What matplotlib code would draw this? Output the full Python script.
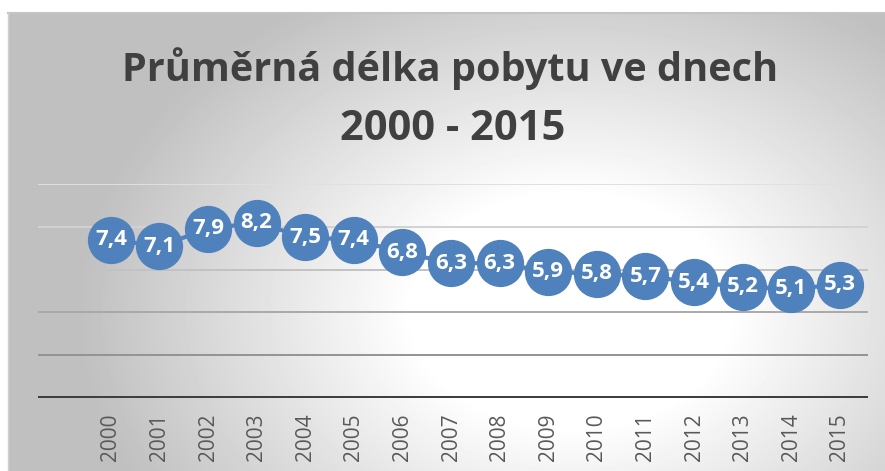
import numpy as np
import matplotlib
matplotlib.use('Agg')
import matplotlib.pyplot as plt

# data
years = ['2000', '2001', '2002', '2003', '2004', '2005', '2006', '2007',
         '2008', '2009', '2010', '2011', '2012', '2013', '2014', '2015']
days = [7.4, 7.1, 7.9, 8.2, 7.5, 7.4, 6.8, 6.3,
        6.3, 5.9, 5.8, 5.7, 5.4, 5.2, 5.1, 5.3]
grid_vals = [2, 4, 6, 8, 10]
grid_colors = ['#939393', '#a9a9a9', '#c2c2c2', '#d2d2d2', '#e0e0e0']

W, H = 885, 471
DPI = 100
BLUE = '#4f81bd'
FONT = 'Open Sans'

fig = plt.figure(figsize=(W / DPI, H / DPI), dpi=DPI)

# background with radial gradient (white centre, grey edges)
bg = fig.add_axes([0, 0, 1, 1])
bg.set_xlim(0, W)
bg.set_ylim(H, 0)
bg.axis('off')
xx, yy = np.meshgrid(np.arange(W), np.arange(H))
d = np.sqrt(((xx - 570) / 450.0) ** 2 + ((yy - 310) / 330.0) ** 2)
shade = 1 - 0.25 * np.clip((d - 0.35) / 0.75, 0, 1)
shade[yy < 13] = 1
shade[xx < 8] = 1
bg.imshow(shade, cmap='gray', vmin=0, vmax=1, extent=(0, W, H, 0),
          interpolation='bilinear')
bg.plot([8, W], [13, 13], color='#c4c4c4', lw=1.5)
bg.plot([8, 8], [13, H], color='#d0d0d0', lw=1.0)

# plot area
left, right, bottom, top = 38, 868, 398, 184
ax = fig.add_axes([left / W, 1 - bottom / H, (right - left) / W, (bottom - top) / H])
ax.patch.set_alpha(0)
x = np.arange(len(years))
ax.set_xlim(-1.5, len(years) - 0.42)
ax.set_ylim(0, 10)

for v, c in zip(grid_vals, grid_colors):
    ax.axhline(v, color=c, lw=1.4, zorder=1)
ax.axhline(0, color='#3f3f3f', lw=3.6, zorder=2)

for s in ax.spines.values():
    s.set_visible(False)
ax.set_yticks([])
ax.set_xticks(x)
ax.set_xticklabels(years, rotation=90, fontsize=15, color='#595959',
                   family=FONT, va='top')
ax.tick_params(axis='x', length=0, pad=11)

ax.plot(x, days, color=BLUE, lw=3, zorder=3, clip_on=False)
ax.plot(x, days, 'o', color=BLUE, ms=33, mec=BLUE, zorder=4, clip_on=False)
for xi, v in zip(x, days):
    ax.text(xi, v, ('%.1f' % v).replace('.', ','), ha='center', va='center',
            color='white', fontsize=16, fontweight='bold', family=FONT,
            zorder=5)

# title, two lines
t1 = bg.text(450, 81, 'Průměrná délka pobytu ve dnech', ha='center',
             va='baseline', fontsize=30, fontweight='bold', color='#404040',
             family=FONT)
t2 = bg.text(453, 140, '2000 - 2015', ha='center', va='baseline',
             fontsize=30, fontweight='bold', color='#404040', family=FONT)
fig.canvas.draw()
r = fig.canvas.get_renderer()
w1 = t1.get_window_extent(r).width
t1.set_fontsize(30 * 656.0 / w1)
t2.set_fontsize(30 * 656.0 / w1 * 1.05)

fig.savefig('out.png', dpi=DPI)
plt.close()
